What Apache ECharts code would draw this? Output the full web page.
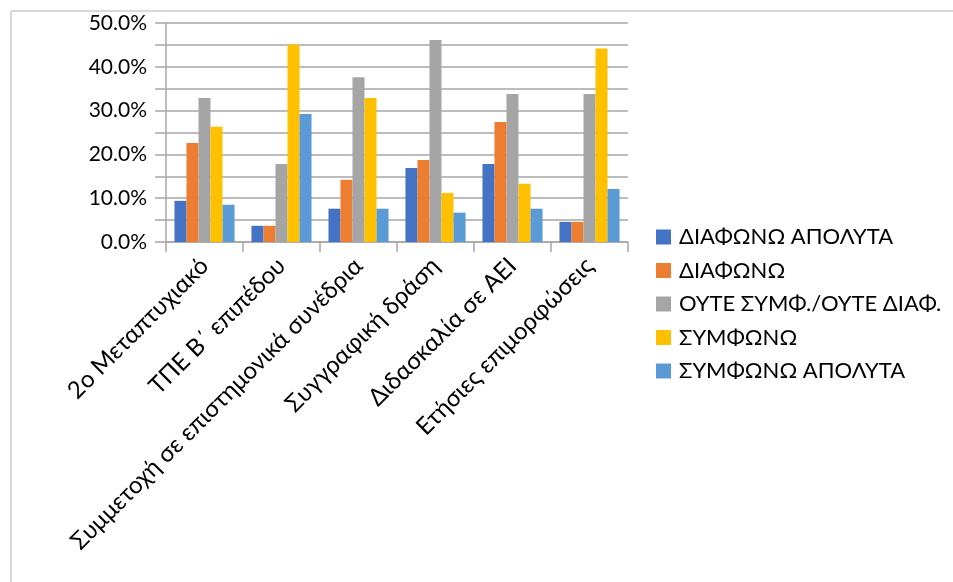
<!DOCTYPE html>
<html>
<head>
<meta charset="utf-8">
<script src="https://cdn.jsdelivr.net/npm/echarts@6/dist/echarts.min.js"></script>
<style>
html,body{margin:0;padding:0;background:#fff;}
#chart{width:953px;height:582px;}
</style>
</head>
<body>
<div id="chart"></div>
<script>
const categories = ["2ο Μεταπτυχιακό", "ΤΠΕ Β΄ επιπέδου", "Συμμετοχή σε επιστημονικά συνέδρια", "Συγγραφική δράση", "Διδασκαλία σε ΑΕΙ", "Ετήσιες επιμορφώσεις"];
const seriesNames = ["ΔΙΑΦΩΝΩ ΑΠΟΛΥΤΑ", "ΔΙΑΦΩΝΩ", "ΟΥΤΕ ΣΥΜΦ./ΟΥΤΕ ΔΙΑΦ.", "ΣΥΜΦΩΝΩ", "ΣΥΜΦΩΝΩ ΑΠΟΛΥΤΑ"];
const diafonoApolyta = [9.4, 3.7, 7.6, 16.9, 17.8, 4.6];
const diafono = [22.6, 3.7, 14.2, 18.7, 27.4, 4.6];
const oute = [32.9, 17.8, 37.6, 46.1, 33.8, 33.8];
const symfono = [26.3, 45.1, 32.9, 11.2, 13.3, 44.2];
const symfonoApolyta = [8.5, 29.2, 7.6, 6.7, 7.6, 12.1];
const colors = ["#4472C4", "#ED7D31", "#A5A5A5", "#FFC000", "#5B9BD5"];

const allValues = [diafonoApolyta, diafono, oute, symfono, symfonoApolyta];
const font = 'Lato, "Open Sans", "Noto Sans", sans-serif';

const chart = echarts.init(document.getElementById('chart'), null, {renderer: 'canvas'});
chart.setOption({
  animation: false,
  color: colors,
  graphic: [
    {type: 'line', shape: {x1: 11, y1: 11, x2: 953, y2: 11}, style: {stroke: '#d9d9d9', lineWidth: 2}},
    {type: 'line', shape: {x1: 11, y1: 11, x2: 11, y2: 582}, style: {stroke: '#d9d9d9', lineWidth: 2}}
  ],
  grid: {left: 166, right: 325, top: 23, bottom: 340, containLabel: false},
  legend: {
    orient: 'vertical',
    left: 651,
    top: 221,
    itemWidth: 15,
    itemHeight: 15,
    itemGap: 11.5,
    icon: 'rect',
    data: seriesNames,
    textStyle: {fontFamily: font, fontSize: 22, color: '#000', lineHeight: 20, padding: [0, 0, 0, 3]}
  },
  xAxis: {
    type: 'category',
    data: categories,
    axisLine: {lineStyle: {color: '#a6a6a6', width: 1.5}},
    axisTick: {show: true, length: 10, lineStyle: {color: '#a6a6a6', width: 1.5}},
    axisLabel: {rotate: 45, interval: 0, margin: 20, fontFamily: font, fontSize: 24, color: '#000'}
  },
  yAxis: {
    type: 'value',
    min: 0, max: 50, interval: 5,
    axisLine: {show: true, lineStyle: {color: '#a6a6a6', width: 1.5}},
    axisTick: {show: true, length: 11, lineStyle: {color: '#a6a6a6', width: 1.5}},
    splitLine: {show: true, lineStyle: {color: '#a6a6a6', width: 1.5}},
    axisLabel: {
      margin: 19, fontFamily: font, fontSize: 21, color: '#000',
      formatter: v => (Math.round(v) % 10 === 0 ? v.toFixed(1) + '%' : '')
    }
  },
  series: seriesNames.map((n, i) => ({
    name: n,
    type: 'bar',
    data: allValues[i],
    barGap: '0%',
    barCategoryGap: '22%',
    itemStyle: {color: colors[i]}
  }))
});
</script>
</body>
</html>
